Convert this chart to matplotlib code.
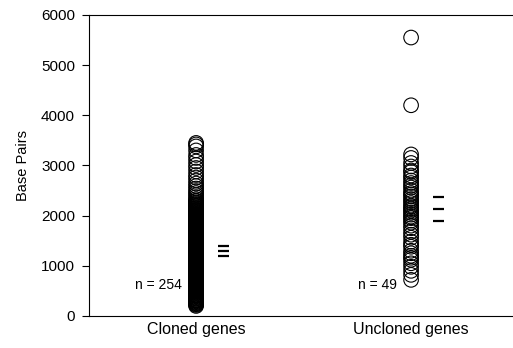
import matplotlib
matplotlib.use("Agg")
import matplotlib.pyplot as plt

plt.rcParams['font.family'] = ['Liberation Sans', 'DejaVu Sans']

categories = ["Cloned genes", "Uncloned genes"]
n_labels = ["n = 254", "n = 49"]

cloned = [3450, 3420, 3380, 3300, 3210, 3150, 3080, 3010, 2950, 2880, 2810,
          2760, 2700, 2640, 2590, 2540, 2490, 2450, 2410, 2370, 2330, 2300,
          2290, 2265, 2250, 2230, 2215, 2200,
          2185, 2170, 2150, 2140, 2125, 2110, 2100,
          2090, 2075, 2060, 2050, 2035, 2020, 2010, 2000,
          1990, 1980, 1965, 1950, 1940, 1925, 1910, 1905, 1900,
          1895, 1880, 1870, 1860, 1850, 1840, 1825, 1815, 1805, 1800,
          1790, 1785, 1770, 1760, 1750, 1740, 1730, 1720, 1715, 1705, 1700,
          1695, 1685, 1675, 1670, 1660, 1650, 1640, 1630, 1625, 1615, 1605, 1600,
          1595, 1590, 1580, 1570, 1560, 1550, 1545, 1530, 1520, 1515, 1505, 1500,
          1495, 1485, 1480, 1470, 1460, 1450, 1445, 1435, 1425, 1420, 1410, 1405, 1400,
          1395, 1390, 1380, 1370, 1360, 1355, 1345, 1335, 1330, 1320, 1310, 1305, 1300,
          1295, 1290, 1280, 1270, 1265, 1255, 1250, 1240, 1230, 1225, 1215, 1210, 1205, 1200,
          1195, 1185, 1180, 1170, 1165, 1155, 1150, 1140, 1130, 1125, 1115, 1110, 1105, 1100,
          1095, 1090, 1080, 1070, 1065, 1055, 1050, 1040, 1030, 1025, 1015, 1010, 1005, 1000,
          995, 985, 980, 970, 965, 955, 950, 940, 930, 925, 915, 910, 905, 900,
          895, 885, 880, 870, 860, 855, 845, 840, 830, 820, 815, 805, 800,
          795, 790, 780, 770, 760, 755, 745, 740, 730, 720, 715, 705, 700,
          695, 685, 675, 670, 660, 650, 640, 630, 625, 615, 605, 600,
          595, 585, 570, 560, 550, 540, 530, 520, 515, 505, 500,
          490, 480, 470, 455, 445, 430, 420, 410, 405, 400,
          390, 375, 360, 350, 340, 325, 315, 305, 300,
          290, 275, 260, 250, 235, 220, 200]

uncloned = [5550, 4200,
            3220, 3150, 3050, 2980, 2900, 2870, 2800, 2760, 2700, 2650,
            2600, 2560, 2500, 2450, 2420, 2380, 2330, 2290, 2250, 2200,
            2170, 2130, 2100, 2060, 2020, 1980, 1950, 1900, 1860, 1800,
            1750, 1680, 1620, 1560, 1480, 1420, 1380, 1300, 1250, 1200,
            1160, 1120, 1050, 980, 900, 820, 720]

# mean and 95% confidence limits (upper, mean, lower)
summary_lines = [[1395, 1296, 1196], [2372, 2133, 1894]]

fig = plt.figure(figsize=(5.13, 3.48), dpi=100)
ax = fig.add_axes([0.1735, 0.092, 0.8265, 0.865])

groups = [cloned, uncloned]
for i, vals in enumerate(groups):
    pos = i + 1
    ax.scatter([pos] * len(vals), vals, s=110, facecolors='none',
               edgecolors='black', linewidths=0.8, zorder=3)
    ax.hlines(summary_lines[i], pos + 0.10, pos + 0.155, colors='black',
              linewidth=1.6)
    ax.text(pos - 0.065, 618, n_labels[i], ha='right', va='center', fontsize=10)

ax.set_xlim(0.502, 2.474)
ax.set_ylim(0, 6000)
ax.set_yticks([0, 1000, 2000, 3000, 4000, 5000, 6000])
ax.set_xticks([1, 2])
ax.set_xticklabels(categories, fontsize=11.5)
ax.tick_params(axis='x', length=0, pad=4)
ax.tick_params(axis='y', direction='out', length=5, width=0.8, labelsize=11, pad=5)
ax.set_ylabel("Base Pairs", fontsize=10.5, labelpad=8)
ax.spines['right'].set_visible(False)
for s in ['left', 'top', 'bottom']:
    ax.spines[s].set_linewidth(0.8)

fig.savefig("out.png", dpi=100)
